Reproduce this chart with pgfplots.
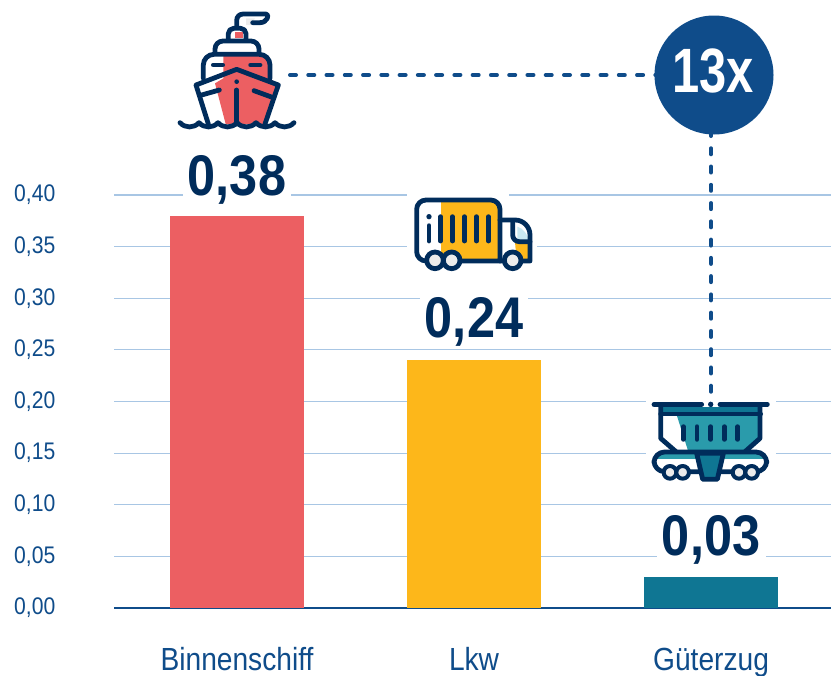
\documentclass[border=0pt]{standalone}
\usepackage{fontspec}
\setmainfont[FakeStretch=0.88]{Liberation Sans}
\newfontfamily\circfont[FakeStretch=0.78]{Liberation Sans}
\usepackage{pgfplots}
\pgfplotsset{compat=1.18}
\definecolor{navy}{RGB}{0,44,91}
\definecolor{mblue}{RGB}{15,76,138}
\definecolor{gridblue}{RGB}{168,198,228}
\definecolor{cred}{RGB}{236,95,98}
\definecolor{cyel}{RGB}{253,183,26}
\definecolor{cteal}{RGB}{15,118,147}
\definecolor{lteal}{RGB}{42,155,171}
\definecolor{lgrey}{RGB}{236,236,236}
\definecolor{wind}{RGB}{200,232,242}
\begin{document}
\begin{tikzpicture}
\useasboundingbox (0pt,0pt) rectangle (623.25pt,-506.25pt);
\begin{axis}[
  at={(85.5pt,-456pt)}, anchor=south west,
  scale only axis,
  width=537.75pt, height=309.75pt,
  ymin=0, ymax=0.40, xmin=-0.519, xmax=2.506,
  ytick={0,0.05,...,0.401},
  xtick={0,1,2},
  xticklabels={Binnenschiff,Lkw,Güterzug},
  axis x line*=bottom, axis y line*=left,
  y axis line style={draw=none},
  x axis line style={draw=mblue,line width=1.9pt,-},
  major tick length=0pt,
  ymajorgrids,
  grid style={gridblue,line width=0.8pt},
  /pgf/number format/.cd,fixed,fixed zerofill,precision=2,use comma,assume math mode=true,
  /pgfplots/.cd,
  yticklabel style={text=mblue,font=\fontsize{18}{18}\selectfont,anchor=east,xshift=-40.5pt},
  xticklabel style={text=mblue,font=\fontsize{24}{24}\selectfont,anchor=base,yshift=-46.5pt},
  ybar, bar shift=0pt, bar width=100.5pt,
  clip=false,
  nodes near coords,
  nodes near coords style={anchor=base,fill=white,text=navy,inner xsep=4pt,inner ysep=1pt,
    font=\fontsize{43}{43}\selectfont\bfseries},
]
\addplot[fill=cred,draw=none,nodes near coords style={yshift=15pt}] coordinates {(0,0.38)};
\addplot[fill=cyel,draw=none,nodes near coords style={yshift=17pt}] coordinates {(1,0.24)};
\addplot[fill=cteal,draw=none,nodes near coords style={yshift=16pt}] coordinates {(2,0.03)};
\end{axis}

\begin{scope}[x=0.75pt,y=-0.75pt]
% white patches behind icons
\fill[white] (407,190) rectangle (509,200);
\fill[white] (407,242) rectangle (537,252);
\fill[white] (646,397) rectangle (776,407);
\fill[white] (646,448) rectangle (776,458);

% dashed connectors
\draw[mblue,line width=3pt,line cap=round,dash pattern=on 4.5pt off 9.2pt] (290,75) -- (660,75);
\draw[mblue,line width=3pt,line cap=round,dash pattern=on 4.5pt off 9.2pt] (711,130) -- (711,405);
\fill[mblue] (714,75) circle[radius=59.5];
\node[white,anchor=base,inner sep=0,font=\circfont\fontsize{47}{47}\selectfont\bfseries] at (713,92) {13x};

% ship
\begin{scope}[shift={(160,0)},x=0.25pt,y=-0.25pt,line width=3.6pt,draw=navy,line join=round,line cap=round]
  \fill[lgrey] (258,55) -- (285,55) -- (272,75) -- (258,75) -- cycle;
  \fill[cred] (225,95) rectangle (248,115);
  \fill[cred] (190,165) -- (320,165) -- (330,180) -- (330,235) -- (355,255) -- (315,372) -- (197,372) -- (165,250) -- (190,235) -- cycle;
  \draw (230,78) -- (230,62) .. controls (230,50) and (238,42) .. (250,42) -- (318,42) .. controls (330,42) and (322,68) .. (300,68) -- (278,68);
  \draw[rounded corners=4pt] (205,118) -- (205,85) -- (258,85) -- (258,118);
  \draw[rounded corners=6pt] (165,158) -- (165,123) -- (297,123) -- (297,158);
  \draw[rounded corners=8pt] (130,235) -- (130,163) -- (330,163) -- (330,235);
  \draw (160,195) -- (188,195) (272,195) -- (300,195);
  \draw (145,372) -- (108,255) -- (230,208) -- (355,255) -- (315,372);
  \draw (125,285) -- (178,270) (282,272) -- (337,292);
  \draw (230,270) -- (230,372);
  \fill[navy] (230,245) circle[radius=7];
  \draw (60,368) .. controls (75,385) and (102,385) .. (117,368) .. controls (132,385) and (159,385) .. (174,368)
    .. controls (189,385) and (216,385) .. (231,368) .. controls (246,385) and (273,385) .. (288,368)
    .. controls (303,385) and (330,385) .. (345,368) .. controls (360,385) and (387,385) .. (402,368);
\end{scope}

% truck
\begin{scope}[shift={(400,185)},x=0.25pt,y=-0.25pt,line width=3.6pt,draw=navy,line join=round,line cap=round]
  \fill[cyel] (123,48) rectangle (298,225);
  \fill[cyel] (345,172) -- (388,172) -- (388,225) -- (350,225) -- cycle;
  \fill[wind] (352,125) .. controls (370,130) and (385,150) .. (385,165) -- (352,165) -- cycle;
  \draw[rounded corners=7pt] (300,228) -- (50,228) -- (50,45) -- (300,45) -- (300,228);
  \draw (300,105) -- (345,105) .. controls (370,105) and (390,125) .. (390,150) -- (390,228) -- (300,228);
  \draw[rounded corners=5pt] (338,108) -- (338,170) -- (390,170);
  \foreach \x in {122,157,193,229,265} \draw (\x,95) -- (\x,168);
  \draw (87,122) -- (87,168);
  \fill[navy] (87,95) circle[radius=8];
  \foreach \x in {105,155,338} \draw[fill=lgrey] (\x,226) circle[radius=25];
\end{scope}

% hopper wagon
\begin{scope}[shift={(640,390)},x=0.25pt,y=-0.25pt,line width=3.6pt,draw=navy,line join=round,line cap=round]
  \fill[lteal] (110,75) -- (355,75) -- (355,143) -- (312,185) -- (145,185) -- cycle;
  \fill[cteal] (68,50) rectangle (355,68);
  \draw (42,43) -- (185,43) (240,43) -- (382,43);
  \fill[navy] (212,43) circle[radius=8];
  \draw (62,72) -- (362,72);
  \draw (62,48) -- (62,145) -- (108,185) (360,48) -- (360,145) -- (315,185);
  \foreach \x in {130,171,212,253,293} \draw (\x,110) -- (\x,148);
  \fill[lteal] (45,192) rectangle (378,206);
  \draw[rounded corners=8pt] (42,186) rectangle (380,245);
  \draw[fill=cteal] (170,190) -- (250,190) -- (232,268) -- (188,268) -- cycle;
  \foreach \x in {90,128,297,335} \draw[fill=lgrey,line width=3pt] (\x,247) circle[radius=19];
\end{scope}
\end{scope}
\end{tikzpicture}
\end{document}
